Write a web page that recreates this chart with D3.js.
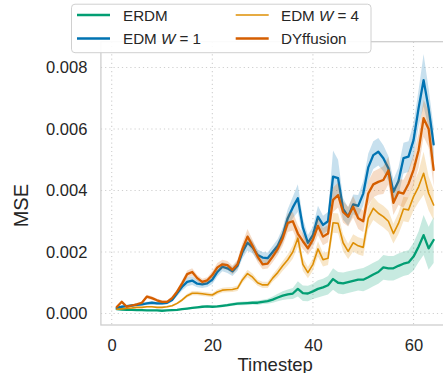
<!DOCTYPE html>
<html>
<head>
<meta charset="utf-8">
<script src="https://cdn.jsdelivr.net/npm/d3@7"></script>
<style>
  html, body { margin: 0; padding: 0; background: #ffffff; }
  svg { display: block; font-family: "Liberation Sans", Arial, sans-serif; }
</style>
</head>
<body>
<svg id="chart" width="443" height="373"></svg>
<script>
// Timesteps 1..64
const timesteps = d3.range(1, 65);

// Mean MSE per timestep (x 1e-3)
const erdm = [0.14,0.13,0.12,0.12,0.11,0.11,0.10,0.10,0.10,0.09,0.10,0.11,0.12,0.14,0.16,0.18,0.20,0.22,0.23,0.22,
  0.23,0.25,0.27,0.30,0.32,0.33,0.34,0.35,0.35,0.38,0.40,0.45,0.52,0.58,0.62,0.65,0.80,0.66,0.65,0.72,
  0.80,0.85,0.92,1.12,1.00,0.98,1.02,1.06,1.10,1.10,1.18,1.27,1.35,1.50,1.47,1.47,1.55,1.62,1.66,1.85,
  2.17,2.55,2.12,2.39];
const edmW1 = [0.18,0.22,0.24,0.26,0.28,0.30,0.33,0.35,0.33,0.33,0.35,0.44,0.66,0.87,1.03,1.07,0.97,0.95,0.98,1.10,
  1.35,1.52,1.47,1.37,1.55,2.00,2.30,2.15,1.90,1.82,1.80,2.00,2.20,2.55,3.10,3.45,3.75,2.80,2.30,2.55,
  3.15,2.88,3.00,4.45,4.40,3.40,3.15,3.55,3.50,3.90,4.75,5.15,5.26,5.05,4.72,3.96,4.30,5.05,5.10,5.64,
  6.67,7.59,6.67,5.50];
const edmW4 = [0.14,0.15,0.17,0.18,0.20,0.20,0.22,0.22,0.20,0.20,0.22,0.25,0.33,0.44,0.58,0.66,0.66,0.64,0.62,0.60,
  0.70,0.76,0.77,0.78,0.82,1.10,1.30,1.18,1.00,0.93,0.93,1.15,1.33,1.55,1.75,2.00,2.45,1.60,1.33,1.60,
  2.10,1.75,1.80,2.95,2.93,2.30,2.02,2.30,2.20,2.15,3.10,3.42,3.26,3.15,3.00,2.60,2.93,3.40,3.37,3.80,
  4.12,4.56,3.91,3.53];
const dyffusion = [0.21,0.38,0.22,0.26,0.30,0.35,0.55,0.50,0.43,0.38,0.38,0.50,0.71,0.98,1.28,1.35,1.15,1.03,1.08,1.25,
  1.50,1.60,1.57,1.42,1.60,2.10,2.50,2.20,1.85,1.60,1.62,1.85,2.10,2.45,2.95,3.00,2.60,2.35,2.12,2.40,
  2.85,2.50,2.60,3.70,3.85,3.30,3.15,3.47,3.10,3.00,3.90,4.20,4.28,4.34,4.65,3.60,3.95,3.90,4.22,4.67,
  5.30,6.35,6.00,4.67];

// Half-width of the shaded spread per timestep (x 1e-3)
const erdmSpread = [0.02,0.02,0.02,0.02,0.02,0.02,0.02,0.02,0.02,0.02,0.02,0.02,0.02,0.03,0.03,0.03,0.03,0.04,0.04,0.04,
  0.04,0.05,0.05,0.05,0.05,0.06,0.06,0.06,0.07,0.07,0.08,0.10,0.12,0.14,0.16,0.18,0.25,0.25,0.25,0.25,
  0.28,0.28,0.30,0.35,0.35,0.35,0.35,0.35,0.35,0.38,0.38,0.38,0.38,0.40,0.40,0.40,0.40,0.40,0.40,0.45,
  0.50,0.65,0.70,0.75];
const edmW1Spread = [0.04,0.04,0.04,0.04,0.04,0.05,0.05,0.05,0.05,0.05,0.05,0.06,0.10,0.12,0.14,0.14,0.12,0.12,0.12,0.14,
  0.15,0.15,0.15,0.15,0.16,0.20,0.25,0.20,0.18,0.18,0.18,0.20,0.22,0.25,0.30,0.35,0.45,0.30,0.25,0.28,
  0.35,0.30,0.30,0.85,0.60,0.35,0.30,0.32,0.35,0.40,0.45,0.45,0.45,0.42,0.40,0.40,0.45,0.50,0.50,0.55,
  0.60,0.85,0.65,0.55];
const edmW4Spread = [0.03,0.03,0.03,0.03,0.03,0.03,0.03,0.03,0.03,0.03,0.03,0.03,0.04,0.05,0.06,0.07,0.07,0.07,0.07,0.07,
  0.08,0.08,0.08,0.08,0.09,0.10,0.12,0.12,0.10,0.10,0.10,0.12,0.14,0.16,0.18,0.22,0.28,0.22,0.18,0.20,
  0.25,0.22,0.22,0.32,0.32,0.28,0.25,0.28,0.28,0.28,0.35,0.38,0.35,0.35,0.35,0.32,0.35,0.40,0.40,0.45,
  0.50,0.70,0.55,0.50];
const dyffusionSpread = [0.04,0.05,0.04,0.04,0.04,0.05,0.06,0.06,0.05,0.05,0.05,0.06,0.08,0.10,0.12,0.12,0.10,0.10,0.10,0.12,
  0.14,0.15,0.14,0.14,0.15,0.20,0.25,0.20,0.18,0.16,0.16,0.18,0.20,0.25,0.30,0.30,0.28,0.25,0.22,0.25,
  0.30,0.28,0.28,0.40,0.40,0.35,0.32,0.35,0.35,0.35,0.40,0.42,0.42,0.45,0.45,0.40,0.42,0.45,0.45,0.50,
  0.55,0.60,0.60,0.55];

const xTicks = [0, 20, 40, 60];
const yTicks = [0, 0.002, 0.004, 0.006, 0.008];

const seriesNames = ["ERDM", "EDM W = 1", "EDM W = 4", "DYffusion"];
const seriesColors = ["#029e73", "#0173b2", "#de8f05", "#d55e00"];
const seriesWidths = [2.3, 2.3, 1.6, 2.3];
const seriesMeans = [erdm, edmW1, edmW4, dyffusion];
const seriesSpreads = [erdmSpread, edmW1Spread, edmW4Spread, dyffusionSpread];

const svg = d3.select("#chart");

const plot = { left: 100.9, right: 449.5, top: 41.7, bottom: 325 };

const x = d3.scaleLinear().domain([-2.15, 67.15]).range([plot.left, plot.right]);
const y = d3.scaleLinear().domain([-0.000374, 0.008839]).range([plot.bottom, plot.top]);

// grid
const grid = svg.append("g");
grid.selectAll("line.gx").data(xTicks).join("line")
  .attr("x1", d => x(d)).attr("x2", d => x(d))
  .attr("y1", plot.top).attr("y2", plot.bottom)
  .attr("stroke", "#cfcfcf").attr("stroke-width", 1.1).attr("stroke-dasharray", "1.2,3");
grid.selectAll("line.gy").data(yTicks).join("line")
  .attr("x1", plot.left).attr("x2", plot.right)
  .attr("y1", d => y(d)).attr("y2", d => y(d))
  .attr("stroke", "#cfcfcf").attr("stroke-width", 1.1).attr("stroke-dasharray", "1.2,3");

// series
const clip = svg.append("clipPath").attr("id", "plotclip").append("rect")
  .attr("x", plot.left).attr("y", plot.top)
  .attr("width", plot.right - plot.left).attr("height", plot.bottom - plot.top);

const marks = svg.append("g").attr("clip-path", "url(#plotclip)");
seriesNames.forEach((name, i) => {
  const rows = timesteps.map((t, k) => ({
    t,
    m: seriesMeans[i][k] / 1000,
    lo: (seriesMeans[i][k] - seriesSpreads[i][k]) / 1000,
    hi: (seriesMeans[i][k] + seriesSpreads[i][k]) / 1000
  }));
  const area = d3.area().x(d => x(d.t)).y0(d => y(d.lo)).y1(d => y(d.hi));
  const line = d3.line().x(d => x(d.t)).y(d => y(d.m));
  marks.append("path").datum(rows).attr("d", area)
    .attr("fill", seriesColors[i]).attr("fill-opacity", 0.22).attr("stroke", "none");
  marks.append("path").datum(rows).attr("d", line)
    .attr("fill", "none").attr("stroke", seriesColors[i])
    .attr("stroke-width", seriesWidths[i]).attr("stroke-linejoin", "round").attr("stroke-linecap", "round");
});

// spines
svg.append("rect")
  .attr("x", plot.left).attr("y", plot.top)
  .attr("width", plot.right - plot.left).attr("height", plot.bottom - plot.top)
  .attr("fill", "none").attr("stroke", "#cccccc").attr("stroke-width", 1.25);

// axes
const xAxis = svg.append("g").attr("transform", `translate(0,${plot.bottom})`)
  .call(d3.axisBottom(x).tickValues(xTicks).tickSize(0).tickPadding(14).tickFormat(d3.format("d")));
const yAxis = svg.append("g").attr("transform", `translate(${plot.left},0)`)
  .call(d3.axisLeft(y).tickValues(yTicks).tickSize(0).tickPadding(13.5).tickFormat(d3.format(".3f")));
[xAxis, yAxis].forEach(a => {
  a.select(".domain").remove();
  a.selectAll("text").attr("fill", "#262626").attr("font-size", "16.5px")
    .attr("font-family", "'Liberation Sans', Arial, sans-serif");
});

svg.append("text")
  .attr("x", (plot.left + plot.right) / 2).attr("y", 370.5)
  .attr("text-anchor", "middle").attr("fill", "#262626").attr("font-size", "18.5px")
  .text("Timestep");
svg.append("text")
  .attr("transform", "translate(27.5,205.7) rotate(-90)")
  .attr("text-anchor", "middle").attr("fill", "#262626").attr("font-size", "20px")
  .text("MSE");

// legend
const legend = svg.append("g");
legend.append("rect")
  .attr("x", 71.5).attr("y", 4.2).attr("width", 299.5).attr("height", 48.5)
  .attr("rx", 3.5).attr("fill", "#ffffff").attr("fill-opacity", 0.9)
  .attr("stroke", "#d0d0d0").attr("stroke-width", 1);

const legendPos = [
  { hx: 77, tx: 123, y: 15 },
  { hx: 77, tx: 123, y: 38.5 },
  { hx: 235.7, tx: 281, y: 15 },
  { hx: 235.7, tx: 281, y: 38.5 }
];
seriesNames.forEach((name, i) => {
  const p = legendPos[i];
  legend.append("line")
    .attr("x1", p.hx).attr("x2", p.hx + 33).attr("y1", p.y).attr("y2", p.y)
    .attr("stroke", seriesColors[i]).attr("stroke-width", seriesWidths[i]);
  const t = legend.append("text").attr("x", p.tx).attr("y", p.y + 5.5)
    .attr("fill", "#262626").attr("font-size", "15.2px");
  const m = name.match(/^(.*?)W = (\d)$/);
  if (m) {
    t.append("tspan").text(m[1]);
    t.append("tspan").attr("font-style", "italic").text("W");
    t.append("tspan").text(" = " + m[2]);
  } else {
    t.text(name);
  }
});
</script>
</body>
</html>
